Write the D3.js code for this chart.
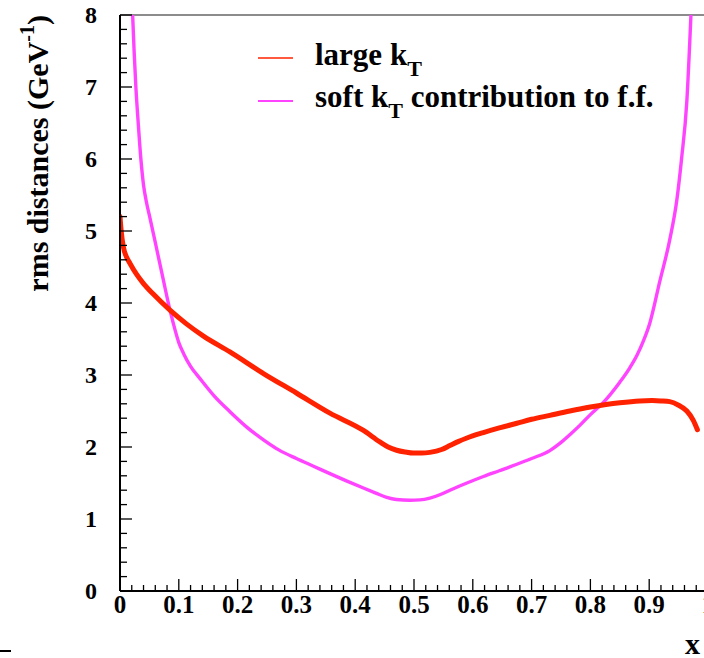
<!DOCTYPE html>
<html>
<head>
<meta charset="utf-8">
<script src="https://cdn.jsdelivr.net/npm/d3@7"></script>
<style>
  html, body { margin: 0; padding: 0; background: #fff; }
  svg { display: block; }
  text { font-family: "Liberation Serif", "Times New Roman", serif; font-weight: bold; fill: #000; }
</style>
</head>
<body>
<svg id="chart" width="704" height="658"></svg>
<script>
// Large-kT rms distance versus x
const largeKtX = [0, 0.002, 0.0057, 0.011, 0.017, 0.028, 0.04, 0.057, 0.085, 0.113, 0.142, 0.187, 0.244,
  0.3, 0.357, 0.414, 0.442, 0.456, 0.4705, 0.485, 0.499, 0.513, 0.527, 0.547, 0.561, 0.575, 0.59, 0.618,
  0.645, 0.675, 0.7, 0.731, 0.765, 0.8, 0.85, 0.884, 0.905, 0.92, 0.935, 0.95, 0.964, 0.975, 0.982];
const largeKtY = [5.2, 5.0, 4.78, 4.64, 4.55, 4.4, 4.27, 4.12, 3.9, 3.71, 3.54, 3.32, 3.02,
  2.75, 2.47, 2.23, 2.07, 2.0, 1.955, 1.93, 1.915, 1.915, 1.925, 1.965, 2.02, 2.075, 2.125, 2.2,
  2.265, 2.33, 2.385, 2.44, 2.5, 2.555, 2.615, 2.64, 2.645, 2.64, 2.63, 2.58, 2.5, 2.37, 2.24];

// Soft-kT contribution to the fragmentation function
const softKtX = [0.0215, 0.024, 0.027, 0.031, 0.0355, 0.04, 0.045, 0.051, 0.0624, 0.0737, 0.085, 0.0935,
  0.1, 0.108, 0.12, 0.136, 0.16, 0.187, 0.215, 0.244, 0.27, 0.3, 0.33, 0.357, 0.385, 0.414, 0.435, 0.4535,
  0.47, 0.493, 0.51, 0.527, 0.545, 0.561, 0.59, 0.618, 0.645, 0.675, 0.7, 0.731, 0.748, 0.765, 0.782, 0.8,
  0.821, 0.85, 0.867, 0.879, 0.89, 0.901, 0.918, 0.935, 0.947, 0.955, 0.964, 0.971];
const softKtY = [8.0, 7.5, 7.0, 6.5, 6.0, 5.64, 5.4, 5.18, 4.75, 4.32, 3.9, 3.63,
  3.45, 3.3, 3.12, 2.95, 2.71, 2.49, 2.28, 2.1, 1.96, 1.84, 1.73, 1.63, 1.53, 1.43, 1.36, 1.3,
  1.27, 1.26, 1.265, 1.29, 1.34, 1.4, 1.5, 1.59, 1.67, 1.76, 1.84, 1.95, 2.05, 2.17, 2.3, 2.45,
  2.61, 2.9, 3.1, 3.27, 3.47, 3.72, 4.3, 4.88, 5.43, 6.0, 6.8, 8.0];

const xTicks = [0, 0.1, 0.2, 0.3, 0.4, 0.5, 0.6, 0.7, 0.8, 0.9, 1];
const xTickLabels = ["0", "0.1", "0.2", "0.3", "0.4", "0.5", "0.6", "0.7", "0.8", "0.9", "1"];
const yTicks = [0, 1, 2, 3, 4, 5, 6, 7, 8];
const yTickLabels = ["0", "1", "2", "3", "4", "5", "6", "7", "8"];

const seriesNames = ["large k", "soft k"];
const seriesColors = ["#ff2200", "#ff44ff"];

const svg = d3.select("#chart");
const x = d3.scaleLinear().domain([0, 1]).range([120, 708]);
const y = d3.scaleLinear().domain([0, 8]).range([591, 15]);

// clip region for the curves
svg.append("defs").append("clipPath").attr("id", "plotClip")
  .append("rect").attr("x", x(0)).attr("y", y(8)).attr("width", x(1) - x(0)).attr("height", y(0) - y(8));

// frame top edge
svg.append("line").attr("x1", x(0)).attr("x2", x(1)).attr("y1", y(8)).attr("y2", y(8))
  .attr("stroke", "#666").attr("stroke-width", 1.5);

// curves
const line = d3.line().x(d => x(d[0])).y(d => y(d[1])).curve(d3.curveMonotoneX);
const g = svg.append("g").attr("clip-path", "url(#plotClip)");
g.append("path").datum(softKtX.map((v, i) => [v, softKtY[i]]))
  .attr("d", line).attr("fill", "none").attr("stroke", seriesColors[1]).attr("stroke-width", 3.4);
g.append("path").datum(largeKtX.map((v, i) => [v, largeKtY[i]]))
  .attr("d", line).attr("fill", "none").attr("stroke", seriesColors[0]).attr("stroke-width", 5)
  .attr("stroke-linejoin", "round").attr("stroke-linecap", "round");

// x axis: majors every 0.1, minors every 0.02, ticks pointing up
const xAxis = svg.append("g");
xAxis.append("line").attr("x1", x(0)).attr("x2", x(1)).attr("y1", y(0)).attr("y2", y(0))
  .attr("stroke", "#000").attr("stroke-width", 2);
const xMinor = d3.range(0, 51).map(i => i / 50).filter(v => Math.round(v * 50) % 5 !== 0);
xAxis.selectAll(".xminor").data(xMinor).join("line")
  .attr("x1", d => x(d)).attr("x2", d => x(d)).attr("y1", y(0)).attr("y2", y(0) - 6)
  .attr("stroke", "#000").attr("stroke-width", 1.3);
xAxis.selectAll(".xmajor").data(xTicks).join("line")
  .attr("x1", d => x(d)).attr("x2", d => x(d)).attr("y1", y(0)).attr("y2", y(0) - 12)
  .attr("stroke", "#000").attr("stroke-width", 1.3);
xAxis.selectAll(".xlab").data(xTicks).join("text")
  .attr("x", d => x(d)).attr("y", 613).attr("text-anchor", "middle")
  .style("font-size", "25px").text((d, i) => xTickLabels[i]);

// y axis: majors every 1, minors every 0.2, ticks pointing right
const yAxis = svg.append("g");
yAxis.append("line").attr("x1", x(0)).attr("x2", x(0)).attr("y1", y(0)).attr("y2", y(8))
  .attr("stroke", "#000").attr("stroke-width", 2);
const yMinor = d3.range(0, 41).map(i => i / 5).filter(v => Math.round(v * 5) % 5 !== 0);
yAxis.selectAll(".yminor").data(yMinor).join("line")
  .attr("x1", x(0)).attr("x2", x(0) + 7).attr("y1", d => y(d)).attr("y2", d => y(d))
  .attr("stroke", "#000").attr("stroke-width", 1.3);
yAxis.selectAll(".ymajor").data(yTicks).join("line")
  .attr("x1", x(0)).attr("x2", x(0) + 12).attr("y1", d => y(d)).attr("y2", d => y(d))
  .attr("stroke", "#000").attr("stroke-width", 1.3);
yAxis.selectAll(".ylab").data(yTicks).join("text")
  .attr("x", 97).attr("y", d => y(d) + 8).attr("text-anchor", "end")
  .style("font-size", "24px").text((d, i) => yTickLabels[i]);

// axis titles
const yTitle = svg.append("text")
  .attr("transform", "translate(48,15) rotate(-90)")
  .attr("text-anchor", "end").style("font-size", "30px");
yTitle.append("tspan").text("rms distances (GeV");
yTitle.append("tspan").attr("dy", -14).style("font-size", "20px").text("-1");
yTitle.append("tspan").attr("dy", 14).text(")");

svg.append("text").attr("x", 700).attr("y", 654).attr("text-anchor", "end")
  .style("font-size", "30px").text("x");

// small dash in the lower-left corner
svg.append("line").attr("x1", 0).attr("x2", 11).attr("y1", 651).attr("y2", 651)
  .attr("stroke", "#000").attr("stroke-width", 2);

// legend
const legendRows = [
  { y: 58, base: 65, color: seriesColors[0], width: 1.3, main: seriesNames[0], rest: "" },
  { y: 101, base: 107, color: seriesColors[1], width: 2.2, main: seriesNames[1], rest: " contribution to f.f." }
];
const legend = svg.append("g");
legendRows.forEach(r => {
  legend.append("line").attr("x1", 258).attr("x2", 293).attr("y1", r.y).attr("y2", r.y)
    .attr("stroke", r.color).attr("stroke-width", r.width);
  const t = legend.append("text").attr("x", 315).attr("y", r.base).style("font-size", "31px");
  t.append("tspan").text(r.main);
  t.append("tspan").attr("dy", 11).style("font-size", "22px").text("T");
  if (r.rest) t.append("tspan").attr("dy", -11).text(r.rest);
});
</script>
</body>
</html>
